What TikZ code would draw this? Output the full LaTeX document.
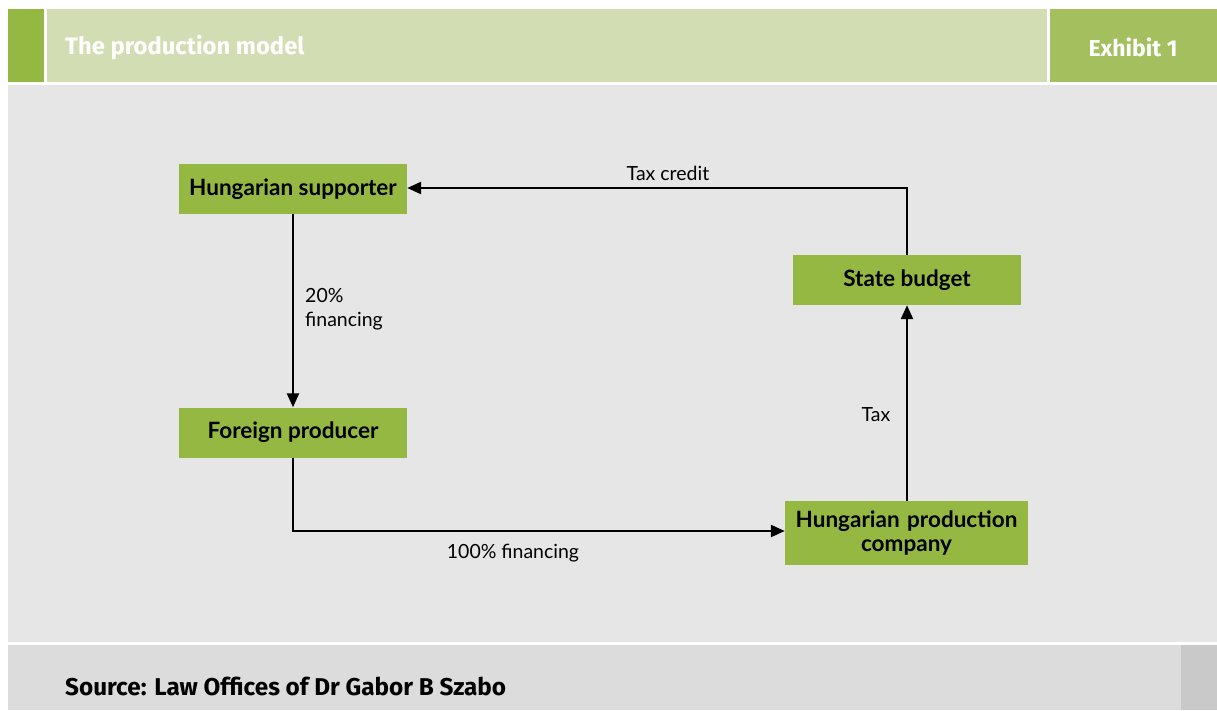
\documentclass[tikz,border=0pt]{standalone}
\usepackage{fontspec}
\setmainfont{Lato}
\newfontfamily\headfont{Fira Sans}
\usetikzlibrary{arrows.meta}
\definecolor{nodegreen}{HTML}{95B842}
\definecolor{headlight}{HTML}{D3DDB3}
\definecolor{headdark}{HTML}{A3BF5E}
\definecolor{panelgray}{HTML}{E6E6E6}
\definecolor{footgray}{HTML}{DCDCDC}
\definecolor{footdark}{HTML}{C9C9C9}
\tikzset{
  box/.style={fill=nodegreen, inner sep=0pt, align=center, font=\fontsize{22.5}{25}\selectfont\bfseries},
  flow/.style={line width=2.4pt, draw=black, -{Triangle[length=14pt,width=12pt]}},
  lbl/.style={font=\fontsize{19.5}{24}\selectfont, inner sep=0pt},
}
\begin{document}
\begin{tikzpicture}[x=1pt,y=-1pt]
\useasboundingbox (0,0) rectangle (1217,710);
\fill[white] (0,0) rectangle (1217,710);
% header
\fill[nodegreen] (8,9) rectangle (44,82);
\fill[headlight] (47,9) rectangle (1047,82);
\fill[headdark] (1050,9) rectangle (1217,82);
\node[anchor=west, text=white, font=\headfont\fontsize{23.8}{28}\selectfont\bfseries, inner sep=0pt] (title) at (65,47) {The production model};
\node[text=white, font=\headfont\fontsize{23}{28}\selectfont\bfseries, inner sep=0pt] (exh) at (1133,47) {Exhibit 1};
% panel
\fill[panelgray] (8,85) rectangle (1217,642);
% footer
\fill[footgray] (8,645) rectangle (1181,710);
\fill[footdark] (1181,645) rectangle (1217,710);
\node[anchor=west, font=\headfont\fontsize{24.3}{28}\selectfont\bfseries, inner sep=0pt] (src) at (65,686) {Source: Law Offices of Dr Gabor B Szabo};
% nodes
\node[box, minimum width=228pt, minimum height=50pt] (hs) at (293,189) {Hungarian supporter};
\node[box, minimum width=228pt, minimum height=50pt] (fp) at (293,432.5) {Foreign producer};
\node[box, minimum width=228pt, minimum height=50pt] (sb) at (907,280) {State budget};
\node[box, minimum width=243pt, minimum height=64pt, text width=236pt] (hpc) at (906.5,533) {Hungarian production\\[-1pt]company};
% connectors
\coordinate (c1) at (293,531);
\coordinate (c2) at (907,188);
\draw[flow] (hs.south) -- (fp.north);
\draw[flow] (fp.south) -- (c1) -- (hpc.west |- c1);
\draw[flow] (hpc.north -| sb.south) -- (sb.south);
\draw[flow] (sb.north) -- (c2) -- (hs.east |- c2);
% labels
\node[lbl] (l1) at (668,173) {Tax credit};
\node[lbl, anchor=north west, align=left] (l2) at (305,288) {20\%\\financing};
\node[lbl] (l3) at (876,415) {Tax};
\node[lbl] (l4) at (513,553) {100\% financing};
\end{tikzpicture}
\end{document}
